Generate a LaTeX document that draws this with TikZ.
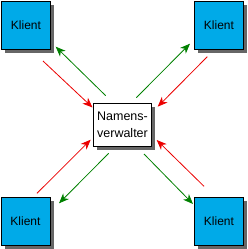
\documentclass[tikz,border=0pt]{standalone}
\usepackage{fontspec}
\setmainfont{Liberation Sans}
\usetikzlibrary{arrows.meta,shadows}
\definecolor{kblue}{RGB}{0,170,232}
\definecolor{kgreen}{RGB}{0,128,0}
\definecolor{kred}{RGB}{235,0,0}
\begin{document}
\begin{tikzpicture}[x=1pt,y=-1pt,
  shad/.style={drop shadow={shadow xshift=3.5pt,shadow yshift=-3.5pt,fill=black!60,opacity=1}},
  klient/.style={draw=black,line width=1pt,fill=kblue,minimum width=49pt,minimum height=48pt,inner sep=0pt,font=\fontsize{12}{14}\selectfont,shad},
  server/.style={draw=black,line width=1pt,fill=white,minimum width=58pt,minimum height=43pt,inner sep=0pt,align=center,font=\fontsize{12.5}{16.5}\selectfont,shad},
  conn/.style={line width=0.8pt,-{Stealth[length=10pt,width=8pt,inset=3pt]}},
  rd/.style={conn,kred},
  gr/.style={conn,kgreen}]
\useasboundingbox (0,0) rectangle (247,249);
\node[klient] (tl) at (26,25) {Klient};
\node[klient] (tr) at (219,25) {Klient};
\node[klient] (bl) at (25.5,221.5) {Klient};
\node[klient] (br) at (219,221) {Klient};
\node[server] (s) at (122.5,125) {Namens-\\verwalter};
% endpoints
\coordinate (tlr1) at (43,61);   \coordinate (tlr2) at (92.5,107.5);
\coordinate (tlg1) at (105.7,95.7); \coordinate (tlg2) at (55.7,46.7);
\coordinate (trg1) at (136.3,97.7); \coordinate (trg2) at (190,43.7);
\coordinate (trr1) at (207.3,56.7); \coordinate (trr2) at (157.7,106.7);
\coordinate (blr1) at (37,193.3); \coordinate (blr2) at (90.7,139.7);
\coordinate (blg1) at (108.7,153.3); \coordinate (blg2) at (59,203.3);
\coordinate (brg1) at (144,154); \coordinate (brg2) at (193,204);
\coordinate (brr1) at (204,186.3); \coordinate (brr2) at (156.7,140);
\draw[rd] (tlr1) -- (tlr2);
\draw[gr] (tlg1) -- (tlg2);
\draw[gr] (trg1) -- (trg2);
\draw[rd] (trr1) -- (trr2);
\draw[rd] (blr1) -- (blr2);
\draw[gr] (blg1) -- (blg2);
\draw[gr] (brg1) -- (brg2);
\draw[rd] (brr1) -- (brr2);
\end{tikzpicture}
\end{document}
